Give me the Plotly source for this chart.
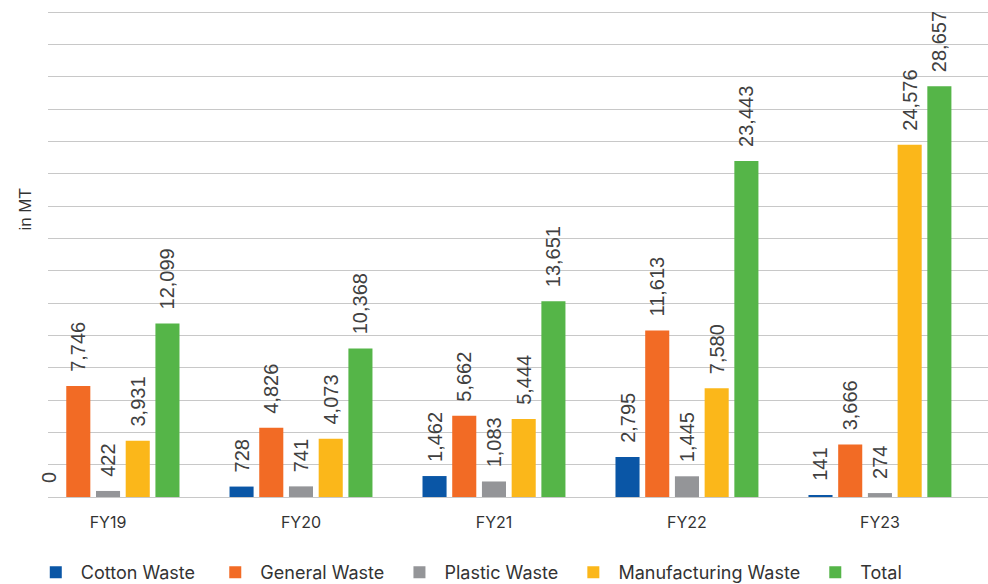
import plotly.graph_objects as go

# Waste generated per financial year, in metric tonnes
years = ["FY19", "FY20", "FY21", "FY22", "FY23"]
cotton_waste = [0, 728, 1462, 2795, 141]
general_waste = [7746, 4826, 5662, 11613, 3666]
plastic_waste = [422, 741, 1083, 1445, 274]
manufacturing_waste = [3931, 4073, 5444, 7580, 24576]
total_waste = [12099, 10368, 13651, 23443, 28657]

series_names = ["Cotton Waste", "General Waste", "Plastic Waste", "Manufacturing Waste", "Total"]
series_values = [cotton_waste, general_waste, plastic_waste, manufacturing_waste, total_waste]
series_colors = ["#0A56A6", "#F26B25", "#949598", "#FBB71A", "#55B548"]
# extra trailing space after each legend entry, in non-breaking spaces
legend_trailing = [3, 2, 2, 2, 0]

NBSP = "\u00a0"
LABEL_PAD = NBSP * 2

fig = go.Figure()
for name, values, color, trail in zip(series_names, series_values, series_colors, legend_trailing):
    fig.add_trace(go.Bar(
        name=NBSP + name + NBSP * trail,
        x=years,
        y=values,
        marker=dict(color=color, line=dict(width=0)),
        text=[LABEL_PAD + f"{v:,}" for v in values],
        textposition="outside",
        textangle=-90,
        constraintext="none",
        cliponaxis=False,
        textfont=dict(family="Liberation Sans, Arial, sans-serif", size=20, color="#404040"),
    ))

fig.add_annotation(
    text="in MT",
    xref="paper", yref="paper",
    x=-0.0117, y=0.59,
    xanchor="right", yanchor="middle",
    textangle=-90,
    showarrow=False,
    font=dict(family="Liberation Sans, Arial, sans-serif", size=17, color="#333333"),
)

fig.update_layout(
    width=988,
    height=584,
    margin=dict(l=48, r=0, t=9, b=87, autoexpand=False),
    paper_bgcolor="white",
    plot_bgcolor="white",
    barmode="group",
    bargap=0.23,
    bargroupgap=0.19,
    showlegend=True,
    legend=dict(
        orientation="h",
        x=-0.013,
        xanchor="left",
        y=-0.155,
        yanchor="middle",
        font=dict(family="Inter, sans-serif", size=18, color="#333333"),
        itemclick=False,
        traceorder="normal",
    ),
    xaxis=dict(
        range=[-0.311, 4.56],
        showgrid=False,
        showline=False,
        ticks="",
        ticklabelstandoff=14,
        tickfont=dict(family="Inter, sans-serif", size=16, color="#333333"),
    ),
    yaxis=dict(
        range=[0, 34050],
        dtick=2256,
        showticklabels=False,
        showgrid=True,
        gridcolor="#C8C8C8",
        gridwidth=1,
        zeroline=True,
        zerolinecolor="#C8C8C8",
        zerolinewidth=1,
        showline=False,
    ),
)

fig.write_html("out.html")
